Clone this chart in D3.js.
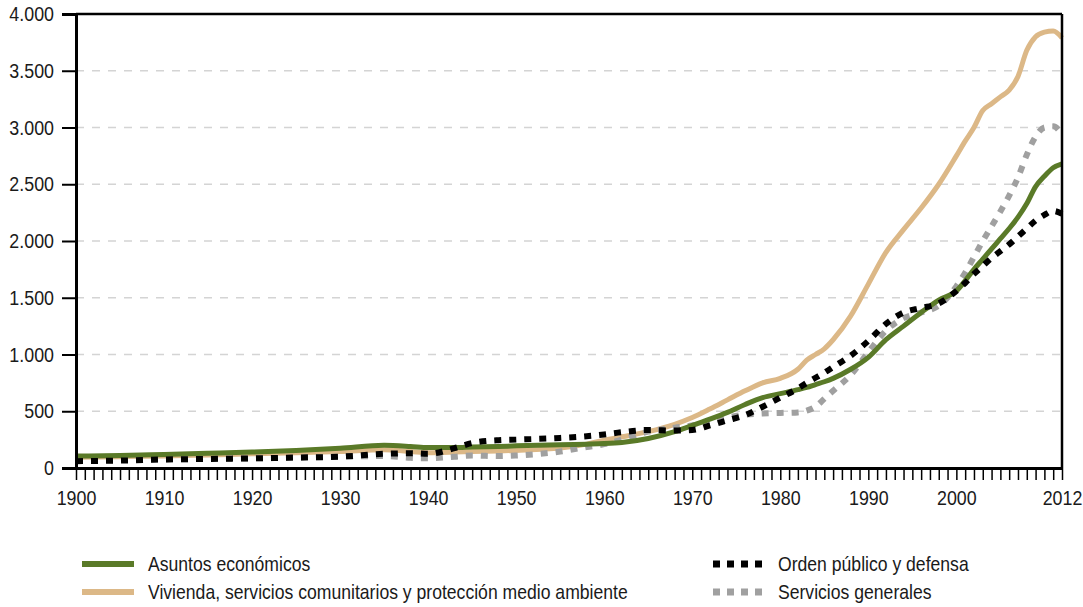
<!DOCTYPE html>
<html>
<head>
<meta charset="utf-8">
<script src="https://cdn.jsdelivr.net/npm/d3@7"></script>
<style>
  body { margin: 0; background: #fff; }
  svg text { font-family: "Liberation Sans", Arial, sans-serif; fill: #1a1a1a; }
</style>
</head>
<body>
<div id="chart"></div>
<script>
// Datos
const years = [1900, 1905, 1910, 1915, 1920, 1925, 1930, 1935, 1938, 1940, 1943, 1945, 1948, 1950, 1955, 1958,
  1960, 1962, 1965, 1968, 1970, 1972, 1974, 1976, 1978, 1980, 1982, 1983, 1984, 1985, 1986, 1988, 1990, 1992,
  1994, 1996, 1998, 2000, 2001, 2002, 2003, 2004, 2005, 2006, 2007, 2008, 2009, 2010, 2011, 2012];

const asuntosEconomicos = [105, 110, 120, 130, 140, 155, 175, 200, 190, 180, 180, 185, 190, 195, 205, 210,
  215, 225, 260, 320, 375, 430, 490, 560, 620, 655, 690, 710, 735, 760, 790, 870, 975, 1130,
  1250, 1370, 1480, 1560, 1650, 1750, 1840, 1930, 2020, 2110, 2210, 2330, 2480, 2570, 2645, 2680];

const vivienda = [95, 100, 105, 115, 125, 135, 145, 160, 145, 135, 140, 145, 150, 155, 175, 210,
  245, 275, 320, 385, 445, 520, 600, 680, 750, 790, 870, 950, 1000, 1050, 1130, 1340, 1620, 1900,
  2100, 2290, 2500, 2750, 2880, 3000, 3150, 3210, 3270, 3330, 3450, 3680, 3800, 3840, 3850, 3790];

const ordenPublico = [60, 65, 75, 80, 85, 92, 100, 125, 130, 125, 175, 220, 245, 250, 265, 280,
  295, 315, 335, 330, 335, 375, 420, 465, 540, 620, 700, 750, 795, 840, 890, 990, 1120, 1270,
  1370, 1410, 1450, 1560, 1630, 1710, 1780, 1850, 1910, 1970, 2040, 2110, 2180, 2230, 2265, 2240];

const serviciosGenerales = [65, 70, 75, 80, 85, 90, 100, 105, 90, 85, 100, 110, 105, 110, 145, 185,
  210, 250, 320, 355, 375, 410, 445, 470, 480, 485, 490, 505, 540, 610, 680, 820, 1020, 1210,
  1320, 1370, 1430, 1600, 1720, 1860, 2000, 2130, 2260, 2400, 2560, 2760, 2920, 3000, 3010, 2940];

const yTicks = [0, 500, 1000, 1500, 2000, 2500, 3000, 3500, 4000];
const xLabels = [1900, 1910, 1920, 1930, 1940, 1950, 1960, 1970, 1980, 1990, 2000, 2012];

const series = [
  { name: 'Vivienda, servicios comunitarios y protección medio ambiente', values: vivienda, color: '#dcb887', dash: null },
  { name: 'Servicios generales', values: serviciosGenerales, color: '#a0a0a0', dash: '7,8' },
  { name: 'Asuntos económicos', values: asuntosEconomicos, color: '#5a7a28', dash: null },
  { name: 'Orden público y defensa', values: ordenPublico, color: '#000000', dash: '7,8' }
];

const W = 1083, H = 607;
const margin = { top: 14, right: 21, bottom: 139, left: 76 };
const width = W - margin.left - margin.right;
const height = H - margin.top - margin.bottom;
const sx = 0.85; // estrechar texto (fuente condensada)

const svg = d3.select('#chart').append('svg')
  .attr('width', W)
  .attr('height', H);

const g = svg.append('g')
  .attr('transform', `translate(${margin.left},${margin.top})`);

const x = d3.scaleLinear().domain([1900, 2012]).range([0, width]);
const y = d3.scaleLinear().domain([0, 4000]).range([height, 0]);

const fmt = d3.formatLocale({ decimal: ',', thousands: '.', grouping: [3], currency: ['', '€'] }).format(',d');

// Líneas de cuadrícula
g.append('g')
  .selectAll('line')
  .data(yTicks.filter(d => d > 0 && d < 4000))
  .enter().append('line')
  .attr('x1', 0).attr('x2', width)
  .attr('y1', d => y(d)).attr('y2', d => y(d))
  .attr('stroke', '#d4d4d4')
  .attr('stroke-width', 1.5)
  .attr('stroke-dasharray', '8,8');

// Series
const line = d3.line()
  .x((d, i) => x(years[i]))
  .y(d => y(d))
  .curve(d3.curveMonotoneX);

series.forEach(s => {
  g.append('path')
    .datum(s.values)
    .attr('fill', 'none')
    .attr('stroke', s.color)
    .attr('stroke-width', s.dash ? 6 : 5)
    .attr('stroke-dasharray', s.dash)
    .attr('d', line);
});

// Marco
g.append('line').attr('x1', 0).attr('x2', width).attr('y1', 0).attr('y2', 0)
  .attr('stroke', '#000').attr('stroke-width', 2.5);
g.append('line').attr('x1', width).attr('x2', width).attr('y1', 0).attr('y2', height)
  .attr('stroke', '#000').attr('stroke-width', 2.5);

// Eje Y
const yAxis = g.append('g')
  .call(d3.axisLeft(y).tickValues(yTicks).tickFormat(fmt).tickSize(14));
yAxis.select('.domain').attr('stroke-width', 3);
yAxis.selectAll('.tick line').attr('stroke-width', 2);
yAxis.selectAll('text')
  .style('font-size', '21px')
  .attr('fill', '#1a1a1a')
  .attr('x', -22 / sx)
  .attr('transform', `scale(${sx},1)`);

// Eje X
const xAxis = g.append('g')
  .attr('transform', `translate(0,${height})`)
  .call(d3.axisBottom(x).tickValues(d3.range(1900, 2013)).tickFormat(d => xLabels.includes(d) ? d : '').tickSize(12).tickPadding(10).tickSizeOuter(0));
xAxis.select('.domain').attr('stroke-width', 3);
xAxis.selectAll('.tick line').attr('stroke-width', 1.5);
xAxis.selectAll('text')
  .style('font-size', '21px')
  .attr('fill', '#1a1a1a')
  .attr('transform', `scale(${sx},1)`);

// Leyenda
const legendItems = [
  { s: series[2], x: 82, y: 564, len: 52, tx: 148 },
  { s: series[0], x: 82, y: 592, len: 52, tx: 148 },
  { s: series[3], x: 713, y: 564, len: 49, tx: 778 },
  { s: series[1], x: 713, y: 592, len: 49, tx: 778 }
];

legendItems.forEach(item => {
  svg.append('line')
    .attr('x1', item.x).attr('x2', item.x + item.len)
    .attr('y1', item.y).attr('y2', item.y)
    .attr('stroke', item.s.color)
    .attr('stroke-width', item.s.dash ? 7 : 6)
    .attr('stroke-dasharray', item.s.dash ? '7,7' : null);
  svg.append('g')
    .attr('transform', `translate(${item.tx},${item.y})`)
    .append('text')
    .attr('dy', '0.36em')
    .attr('transform', 'scale(0.88,1)')
    .style('font-size', '20px')
    .text(item.s.name);
});
</script>
</body>
</html>
